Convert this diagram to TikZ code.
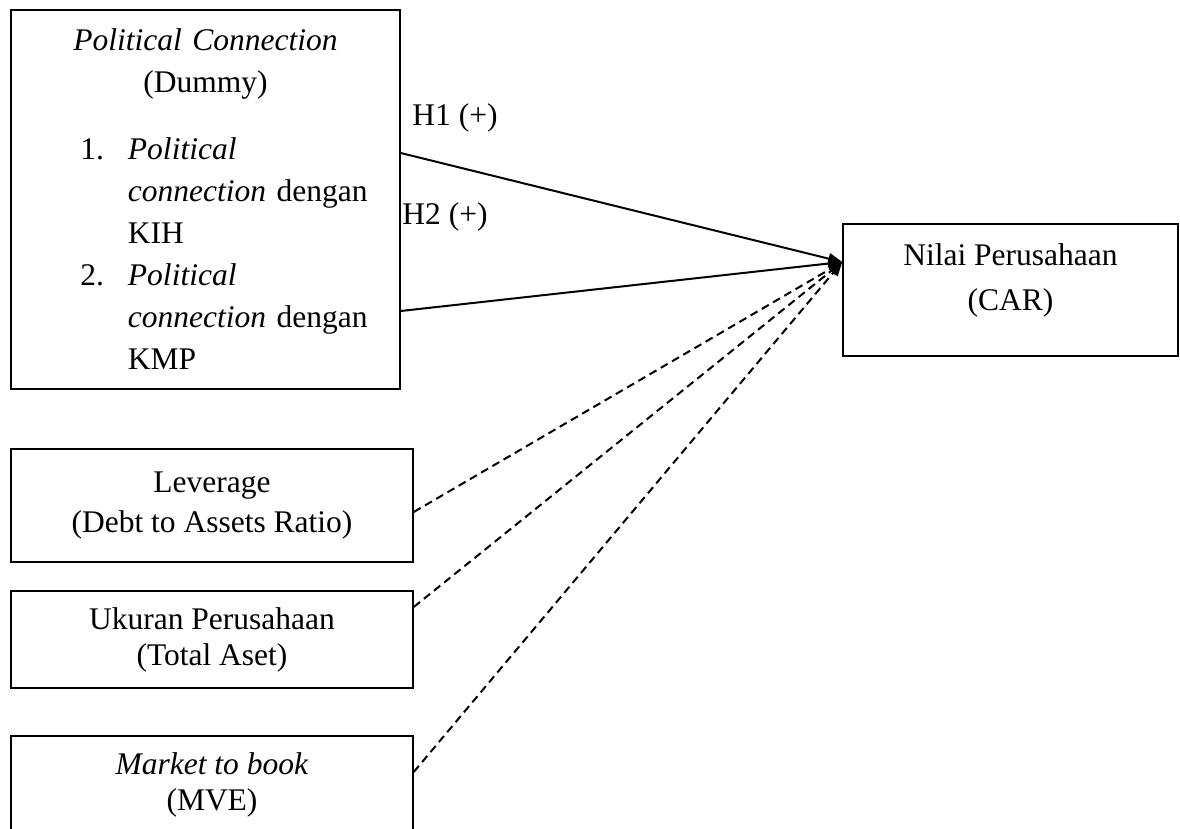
\documentclass[tikz,border=0pt]{standalone}
\usepackage{fontspec}
\setmainfont{Liberation Serif}
\usetikzlibrary{arrows.meta}
\setlength{\parindent}{0pt}
\begin{document}
\begin{tikzpicture}[x=0.5pt,y=-0.5pt,
        every node/.style={font=\fontsize{15.75pt}{18pt}\selectfont},
        varbox/.style={draw,line width=0.75pt,align=center,inner sep=0pt},
        link/.style={line width=1pt,-{Triangle[length=7pt,width=5.5pt]}},
        ctrllink/.style={link,dash pattern=on 4pt off 2.5pt}]
    \useasboundingbox (0,0) rectangle (1180,829);
    \node[varbox,text width=194.5pt,minimum height=189.5pt,align=left,
          font=\fontsize{15.75pt}{21pt}\selectfont] (pc) at (205.5,199.5) {%
            {\centering\textit{Political Connection}\\(Dummy)\par}
            \vspace{12.5pt}
            {\leftskip=58.5pt
            \leavevmode\llap{1.\hspace{12pt}}\textit{Political}\\
            \textit{connection} dengan\\
            KIH\\
            \leavevmode\llap{2.\hspace{12pt}}\textit{Political}\\
            \textit{connection} dengan\\
            KMP\par}};
    \node[varbox,minimum width=167.5pt,minimum height=66pt,text depth=13pt]
        (car) at (1010.5,290) {Nilai Perusahaan\\[4.5pt](CAR)};
    \node[varbox,minimum width=201pt,minimum height=56.5pt]
        (lev) at (212,505.5) {Leverage\\[2pt](Debt to Assets Ratio)};
    \node[varbox,minimum width=201pt,minimum height=48.5pt]
        (size) at (212,639.5) {Ukuran Perusahaan\\(Total Aset)};
    \node[varbox,minimum width=201pt,minimum height=49pt]
        (mtb) at (212,785) {\textit{Market to book}\\(MVE)};
    \coordinate (tip) at ([yshift=14pt]car.west);
    \draw[link] ([yshift=23.25pt]pc.east) -- (tip);
    \draw[link] ([yshift=-55.75pt]pc.east) -- (tip);
    \draw[ctrllink] ([yshift=-3.25pt]lev.east) -- (tip);
    \draw[ctrllink] ([yshift=16.25pt]size.east) -- (tip);
    \draw[ctrllink] ([yshift=6.5pt]mtb.east) -- (tip);
    \node[anchor=west,inner sep=0pt] (h1) at (412,118) {H1 (+)};
    \node[anchor=west,inner sep=0pt] (h2) at (402,217) {H2 (+)};
\end{tikzpicture}
\end{document}
